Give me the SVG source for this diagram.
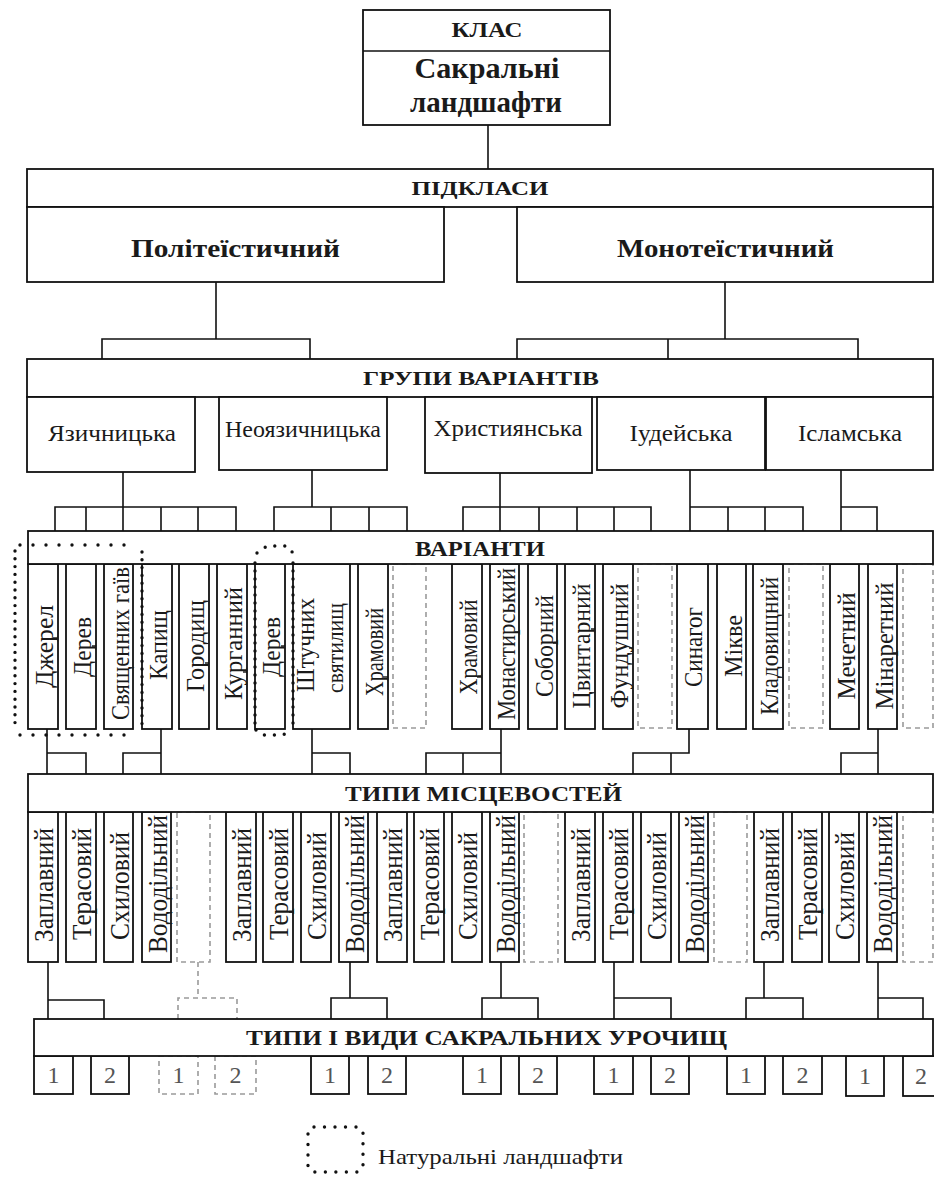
<svg xmlns="http://www.w3.org/2000/svg" width="934" height="1177" viewBox="0 0 934 1177">
<style>
.bx{fill:#fff;stroke:#111;stroke-width:1.8}
.dsh{fill:none;stroke:#9a9a9a;stroke-width:1.6;stroke-dasharray:5 4}
.ln{fill:none;stroke:#111;stroke-width:1.6}
.tk{fill:none;stroke:#111;stroke-width:1.4}
.dot{fill:none;stroke:#111;stroke-width:3.4;stroke-linecap:round}
text{font-family:"Liberation Serif","Times New Roman",serif;fill:#1a1a1a}
.b{font-weight:bold}
.h{text-anchor:middle}
.v{text-anchor:middle}
.n{text-anchor:middle;fill:#555}
</style>
<rect width="934" height="1177" fill="#fff"/>

<g id="connectors">
<path class="ln" d="M488 125V169"/>
<path class="ln" d="M216 282V339M102 359V339H310V359"/>
<path class="ln" d="M725 282V339M517 359V339H858V359M668 339V359"/>
<path class="ln" d="M123 472V531M55 531V507H236V531M86 507V531M161 507V531M198 507V531"/>
<path class="ln" d="M312 470V507M274 531V507H407V531M331 507V531M369 507V531"/>
<path class="ln" d="M500 473V531M463 531V507H651V531M539 507V531M577 507V531M614 507V531"/>
<path class="ln" d="M690 470V531M690 507H803V531M728 507V531M765 507V531"/>
<path class="ln" d="M841 470V531M841 507H877V531"/>
<path class="ln" d="M47 729V774M47 753H86V774M161 729V774M123 774V753H161M312 729V774M312 753H350V774M501 729V774M426 774V753H501M463 753V774M689 729V753H633V774M671 753V774M878 729V774M878 753H841V774"/>
<path class="ln" d="M48 962V1019M48 1000H104V1019M350 962V998M331 1019V998H387V1019M501 962V998M482 1019V998H538V1019M614 962V1019M614 998H671V1019M764 962V998M746 1019V998H803V1019M878 962V1019M878 998H923V1019"/>
<path class="dsh" d="M198 962V998M178 1019V998H237V1019"/>
</g>

<g id="klas">
<rect class="bx" x="363" y="10" width="247" height="115"/>
<path class="ln" d="M363 51H610"/>
<text class="h b" x="487" y="37" font-size="22" textLength="71" lengthAdjust="spacingAndGlyphs">КЛАС</text>
<text class="h b" x="487" y="78" font-size="29" textLength="145" lengthAdjust="spacingAndGlyphs">Сакральні</text>
<text class="h b" x="486" y="112" font-size="29" textLength="152" lengthAdjust="spacingAndGlyphs">ландшафти</text>
</g>

<g id="pidklasy">
<rect class="bx" x="27" y="169" width="906" height="38"/>
<text class="h b" x="480" y="195" font-size="19" textLength="137" lengthAdjust="spacingAndGlyphs">ПІДКЛАСИ</text>
</g>
<g id="politeist">
<rect class="bx" x="27" y="207" width="417" height="75"/>
<text class="h b" x="235.5" y="257" font-size="26" textLength="209" lengthAdjust="spacingAndGlyphs">Політеїстичний</text>
</g>
<g id="monoteist">
<rect class="bx" x="517" y="207" width="416" height="75"/>
<text class="h b" x="725.5" y="257" font-size="26" textLength="217" lengthAdjust="spacingAndGlyphs">Монотеїстичний</text>
</g>

<g id="grupy">
<rect class="bx" x="27" y="359" width="906" height="38"/>
<text class="h b" x="481" y="385" font-size="19" textLength="236" lengthAdjust="spacingAndGlyphs">ГРУПИ ВАРІАНТІВ</text>
</g>
<g id="g-yazych"><rect class="bx" x="27" y="397" width="168" height="75"/><text class="h" x="112" y="441" font-size="23" textLength="128" lengthAdjust="spacingAndGlyphs">Язичницька</text></g>
<g id="g-neoyazych"><rect class="bx" x="219" y="397" width="168" height="73"/><text class="h" x="303" y="437" font-size="23" textLength="156" lengthAdjust="spacingAndGlyphs">Неоязичницька</text></g>
<g id="g-khryst"><rect class="bx" x="425" y="397" width="167" height="76"/><text class="h" x="508" y="436" font-size="23" textLength="149" lengthAdjust="spacingAndGlyphs">Християнська</text></g>
<g id="g-iudei"><rect class="bx" x="597" y="397" width="168" height="73"/><text class="h" x="681" y="441" font-size="23" textLength="103" lengthAdjust="spacingAndGlyphs">Іудейська</text></g>
<g id="g-islam"><rect class="bx" x="766" y="397" width="167" height="73"/><text class="h" x="850" y="441" font-size="23" textLength="104" lengthAdjust="spacingAndGlyphs">Ісламська</text></g>

<g id="varianty-items" font-size="26">
<g id="v1"><rect class="bx" x="28" y="564" width="30" height="165"/><path class="tk" d="M53 638H58"/><text class="v" transform="translate(53,646.5) rotate(-90)" textLength="83" lengthAdjust="spacingAndGlyphs">Джерел</text></g>
<g id="v2"><rect class="bx" x="66" y="564" width="30" height="165"/><path class="tk" d="M92 646H96"/><text class="v" transform="translate(91,647) rotate(-90)" textLength="60" lengthAdjust="spacingAndGlyphs">Дерев</text></g>
<g id="v3"><rect class="bx" x="104" y="564" width="29" height="165"/><text class="v" transform="translate(129,643.5) rotate(-90)" textLength="153" lengthAdjust="spacingAndGlyphs">Священних гаїв</text></g>
<g id="v4"><rect class="bx" x="142" y="564" width="30" height="165"/><text class="v" transform="translate(167,645) rotate(-90)" textLength="70" lengthAdjust="spacingAndGlyphs">Капищ</text></g>
<g id="v5"><rect class="bx" x="179" y="564" width="30" height="165"/><path class="tk" d="M205 663H209"/><text class="v" transform="translate(204,646) rotate(-90)" textLength="92" lengthAdjust="spacingAndGlyphs">Городищ</text></g>
<g id="v6"><rect class="bx" x="217" y="564" width="30" height="165"/><path class="tk" d="M243 672H247"/><text class="v" transform="translate(242,643.5) rotate(-90)" textLength="113" lengthAdjust="spacingAndGlyphs">Курганний</text></g>
<g id="v7"><rect class="bx" x="255" y="564" width="30" height="165"/><path class="tk" d="M281 646H285"/><text class="v" transform="translate(280,647) rotate(-90)" textLength="60" lengthAdjust="spacingAndGlyphs">Дерев</text></g>
<g id="v8"><rect class="bx" x="293" y="564" width="57" height="165"/><text class="v" transform="translate(314,645) rotate(-90)" textLength="94" lengthAdjust="spacingAndGlyphs">Штучних</text><text class="v" font-size="23" transform="translate(343,648) rotate(-90)" textLength="90" lengthAdjust="spacingAndGlyphs">святилищ</text></g>
<g id="v9"><rect class="bx" x="358" y="564" width="30" height="165"/><path class="tk" d="M383 677H388"/><text class="v" transform="translate(383,652) rotate(-90)" textLength="88" lengthAdjust="spacingAndGlyphs">Храмовий</text></g>
<g id="v10"><rect class="dsh" x="393" y="564" width="33" height="164"/></g>
<g id="v11"><rect class="bx" x="452" y="564" width="30" height="165"/><path class="tk" d="M477 677H482"/><text class="v" transform="translate(477,647) rotate(-90)" textLength="95" lengthAdjust="spacingAndGlyphs">Храмовий</text></g>
<g id="v12"><rect class="bx" x="490" y="564" width="29" height="165"/><path class="tk" d="M515 632H519"/><text class="v" transform="translate(515,644) rotate(-90)" textLength="152" lengthAdjust="spacingAndGlyphs">Монастирський</text></g>
<g id="v13"><rect class="bx" x="528" y="564" width="29" height="165"/><path class="tk" d="M553 643H557"/><text class="v" transform="translate(553,646) rotate(-90)" textLength="102" lengthAdjust="spacingAndGlyphs">Соборний</text></g>
<g id="v14"><rect class="bx" x="565" y="564" width="30" height="165"/><path class="tk" d="M591 629H595"/><text class="v" transform="translate(590,646) rotate(-90)" textLength="125" lengthAdjust="spacingAndGlyphs">Цвинтарний</text></g>
<g id="v15"><rect class="bx" x="603" y="564" width="30" height="165"/><path class="tk" d="M629 648H633"/><text class="v" transform="translate(628,646) rotate(-90)" textLength="125" lengthAdjust="spacingAndGlyphs">Фундушний</text></g>
<g id="v16"><rect class="dsh" x="638" y="564" width="34" height="164"/></g>
<g id="v17"><rect class="bx" x="677" y="564" width="31" height="165"/><text class="v" transform="translate(702,647) rotate(-90)" textLength="80" lengthAdjust="spacingAndGlyphs">Синагог</text></g>
<g id="v18"><rect class="bx" x="717" y="564" width="29" height="165"/><text class="v" transform="translate(742,646) rotate(-90)" textLength="62" lengthAdjust="spacingAndGlyphs">Мікве</text></g>
<g id="v19"><rect class="bx" x="753" y="564" width="30" height="165"/><text class="v" transform="translate(778,646) rotate(-90)" textLength="138" lengthAdjust="spacingAndGlyphs">Кладовищний</text></g>
<g id="v20"><rect class="dsh" x="789" y="564" width="34" height="164"/></g>
<g id="v21"><rect class="bx" x="830" y="564" width="29" height="165"/><text class="v" transform="translate(855,646) rotate(-90)" textLength="107" lengthAdjust="spacingAndGlyphs">Мечетний</text></g>
<g id="v22"><rect class="bx" x="868" y="564" width="29" height="165"/><path class="tk" d="M893 653H897"/><text class="v" transform="translate(893,646) rotate(-90)" textLength="127" lengthAdjust="spacingAndGlyphs">Мінаретний</text></g>
<g id="v23"><rect class="dsh" x="903" y="564" width="30" height="164"/></g>
</g>
<g id="varianty">
<rect class="bx" x="28" y="531" width="905" height="33"/>
<text class="h b" x="480" y="556" font-size="20" textLength="130" lengthAdjust="spacingAndGlyphs">ВАРІАНТИ</text>
</g>

<g id="natural-outlines">
<path class="dot" stroke-dasharray="0 13" d="M20 545H137M20 735H137"/>
<path class="dot" stroke-dasharray="0 7.8" d="M15 551V729M142 552V728"/>
<path class="dot" stroke-dasharray="0 10" d="M257 553L267 546H287L293 553"/>
<path class="dot" stroke-dasharray="0 10" d="M256 730L263 735H283L292 730"/>
<path class="dot" stroke-dasharray="0 8" d="M255 563V728M293 563V728"/>
</g>

<g id="mistsevosti-items" font-size="28">
<g id="m1"><rect class="bx" x="28" y="812" width="30" height="150"/><text class="v" transform="translate(53,885) rotate(-90)" textLength="114" lengthAdjust="spacingAndGlyphs">Заплавний</text></g>
<g id="m2"><rect class="bx" x="66" y="812" width="30" height="150"/><path class="tk" d="M92 912H96"/><text class="v" transform="translate(91,884) rotate(-90)" textLength="112" lengthAdjust="spacingAndGlyphs">Терасовий</text></g>
<g id="m3"><rect class="bx" x="104" y="812" width="29" height="150"/><text class="v" transform="translate(129,886) rotate(-90)" textLength="108" lengthAdjust="spacingAndGlyphs">Схиловий</text></g>
<g id="m4"><rect class="bx" x="142" y="812" width="29" height="150"/><text class="v" transform="translate(167,884) rotate(-90)" textLength="138" lengthAdjust="spacingAndGlyphs">Вододільний</text></g>
<g id="m5"><rect class="dsh" x="177" y="812" width="33" height="150"/></g>
<g id="m6"><rect class="bx" x="226" y="812" width="30" height="150"/><text class="v" transform="translate(251,885) rotate(-90)" textLength="114" lengthAdjust="spacingAndGlyphs">Заплавний</text></g>
<g id="m7"><rect class="bx" x="263" y="812" width="30" height="150"/><path class="tk" d="M289 912H293"/><text class="v" transform="translate(288,884) rotate(-90)" textLength="112" lengthAdjust="spacingAndGlyphs">Терасовий</text></g>
<g id="m8"><rect class="bx" x="301" y="812" width="30" height="150"/><text class="v" transform="translate(326,886) rotate(-90)" textLength="108" lengthAdjust="spacingAndGlyphs">Схиловий</text></g>
<g id="m9"><rect class="bx" x="339" y="812" width="29" height="150"/><text class="v" transform="translate(364,884) rotate(-90)" textLength="138" lengthAdjust="spacingAndGlyphs">Вододільний</text></g>
<g id="m10"><rect class="bx" x="377" y="812" width="30" height="150"/><text class="v" transform="translate(402,885) rotate(-90)" textLength="114" lengthAdjust="spacingAndGlyphs">Заплавний</text></g>
<g id="m11"><rect class="bx" x="414" y="812" width="30" height="150"/><path class="tk" d="M440 912H444"/><text class="v" transform="translate(439,884) rotate(-90)" textLength="112" lengthAdjust="spacingAndGlyphs">Терасовий</text></g>
<g id="m12"><rect class="bx" x="452" y="812" width="30" height="150"/><text class="v" transform="translate(477,886) rotate(-90)" textLength="108" lengthAdjust="spacingAndGlyphs">Схиловий</text></g>
<g id="m13"><rect class="bx" x="490" y="812" width="29" height="150"/><text class="v" transform="translate(515,884) rotate(-90)" textLength="138" lengthAdjust="spacingAndGlyphs">Вододільний</text></g>
<g id="m14"><rect class="dsh" x="524" y="812" width="34" height="150"/></g>
<g id="m15"><rect class="bx" x="565" y="812" width="30" height="150"/><text class="v" transform="translate(590,885) rotate(-90)" textLength="114" lengthAdjust="spacingAndGlyphs">Заплавний</text></g>
<g id="m16"><rect class="bx" x="603" y="812" width="30" height="150"/><path class="tk" d="M629 912H633"/><text class="v" transform="translate(628,884) rotate(-90)" textLength="112" lengthAdjust="spacingAndGlyphs">Терасовий</text></g>
<g id="m17"><rect class="bx" x="641" y="812" width="30" height="150"/><text class="v" transform="translate(666,886) rotate(-90)" textLength="108" lengthAdjust="spacingAndGlyphs">Схиловий</text></g>
<g id="m18"><rect class="bx" x="679" y="812" width="29" height="150"/><text class="v" transform="translate(704,884) rotate(-90)" textLength="138" lengthAdjust="spacingAndGlyphs">Вододільний</text></g>
<g id="m19"><rect class="dsh" x="714" y="812" width="33" height="150"/></g>
<g id="m20"><rect class="bx" x="754" y="812" width="29" height="150"/><text class="v" transform="translate(779,885) rotate(-90)" textLength="114" lengthAdjust="spacingAndGlyphs">Заплавний</text></g>
<g id="m21"><rect class="bx" x="792" y="812" width="30" height="150"/><path class="tk" d="M818 912H822"/><text class="v" transform="translate(817,884) rotate(-90)" textLength="112" lengthAdjust="spacingAndGlyphs">Терасовий</text></g>
<g id="m22"><rect class="bx" x="829" y="812" width="30" height="150"/><text class="v" transform="translate(854,886) rotate(-90)" textLength="108" lengthAdjust="spacingAndGlyphs">Схиловий</text></g>
<g id="m23"><rect class="bx" x="867" y="812" width="30" height="150"/><text class="v" transform="translate(892,884) rotate(-90)" textLength="138" lengthAdjust="spacingAndGlyphs">Вододільний</text></g>
<g id="m24"><rect class="dsh" x="903" y="812" width="30" height="150"/></g>
</g>
<g id="mistsevosti">
<rect class="bx" x="28" y="774" width="905" height="38"/>
<text class="h b" x="483.5" y="801" font-size="22" textLength="277" lengthAdjust="spacingAndGlyphs">ТИПИ МІСЦЕВОСТЕЙ</text>
</g>

<g id="urochyshcha-items" font-size="24">
<g id="u1"><rect class="bx" x="34" y="1056" width="39" height="38"/><text class="n" x="53.5" y="1083">1</text></g>
<g id="u2"><rect class="bx" x="91" y="1056" width="38" height="38"/><text class="n" x="110" y="1083">2</text></g>
<g id="u3"><rect class="dsh" x="159" y="1056" width="39" height="38"/><text class="n" x="178.5" y="1083">1</text></g>
<g id="u4"><rect class="dsh" x="215" y="1056" width="41" height="38"/><text class="n" x="235.5" y="1083">2</text></g>
<g id="u5"><rect class="bx" x="311" y="1056" width="38" height="38"/><text class="n" x="330" y="1083">1</text></g>
<g id="u6"><rect class="bx" x="368" y="1056" width="38" height="38"/><text class="n" x="387" y="1083">2</text></g>
<g id="u7"><rect class="bx" x="463" y="1056" width="38" height="38"/><text class="n" x="482" y="1083">1</text></g>
<g id="u8"><rect class="bx" x="519" y="1056" width="38" height="38"/><text class="n" x="538" y="1083">2</text></g>
<g id="u9"><rect class="bx" x="594" y="1056" width="39" height="38"/><text class="n" x="613.5" y="1083">1</text></g>
<g id="u10"><rect class="bx" x="651" y="1056" width="38" height="38"/><text class="n" x="670" y="1083">2</text></g>
<g id="u11"><rect class="bx" x="727" y="1056" width="38" height="38"/><text class="n" x="746" y="1083">1</text></g>
<g id="u12"><rect class="bx" x="783" y="1056" width="39" height="38"/><text class="n" x="802.5" y="1083">2</text></g>
<g id="u13"><rect class="bx" x="846" y="1056" width="38" height="40"/><text class="n" x="865" y="1084">1</text></g>
<g id="u14"><rect class="bx" x="903" y="1056" width="38" height="40"/><text class="n" x="921" y="1084">2</text></g>
</g>
<g id="urochyshcha">
<rect class="bx" x="34" y="1019" width="899" height="37"/>
<text class="h b" x="486.5" y="1045" font-size="22" textLength="481" lengthAdjust="spacingAndGlyphs">ТИПИ І ВИДИ САКРАЛЬНИХ УРОЧИЩ</text>
</g>

<g id="legend">
<rect class="dot" stroke-dasharray="0 10.5" x="308" y="1127" width="55" height="45" rx="6"/>
<text x="378" y="1164" font-size="22" textLength="245" lengthAdjust="spacingAndGlyphs">Натуральні ландшафти</text>
</g>
</svg>
